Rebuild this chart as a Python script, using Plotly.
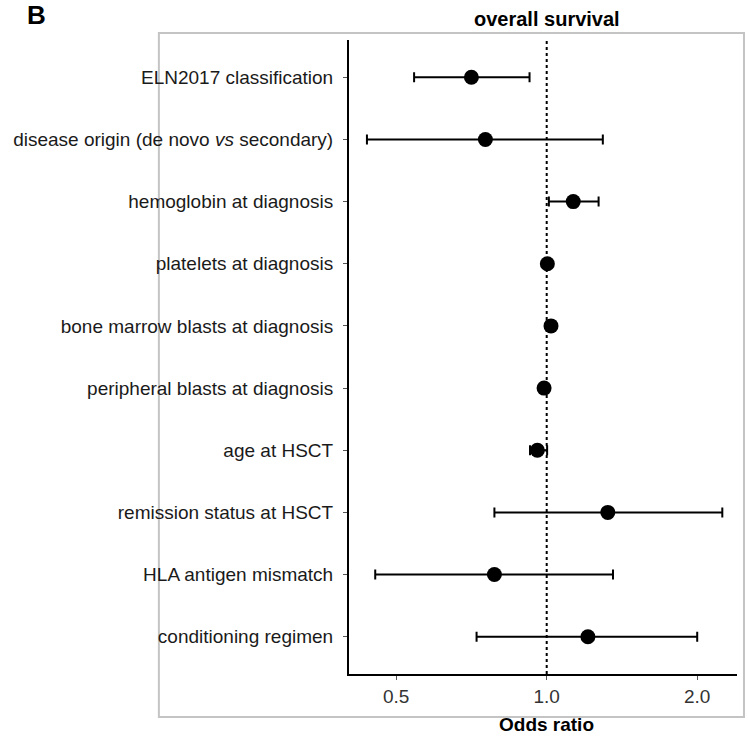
import plotly.graph_objects as go

categories = [
    "ELN2017 classification",
    "disease origin (de novo <i>vs</i> secondary)",
    "hemoglobin at diagnosis",
    "platelets at diagnosis",
    "bone marrow blasts at diagnosis",
    "peripheral blasts at diagnosis",
    "age at HSCT",
    "remission status at HSCT",
    "HLA antigen mismatch",
    "conditioning regimen",
]
odds_ratio = [0.707, 0.754, 1.13, 1.003, 1.02, 0.988, 0.958, 1.325, 0.786, 1.209]
ci_low = [0.543, 0.437, 1.01, 0.995, 1.012, 0.980, 0.926, 0.786, 0.454, 0.724]
ci_high = [0.924, 1.295, 1.27, 1.011, 1.028, 0.996, 1.002, 2.245, 1.357, 2.0]

x_ticks = [0.5, 1.0, 2.0]
x_tick_labels = ["0.5", "1.0", "2.0"]

err_plus = [h - v for h, v in zip(ci_high, odds_ratio)]
err_minus = [v - l for v, l in zip(odds_ratio, ci_low)]

FONT = "Liberation Sans, Arial, sans-serif"

fig = go.Figure()
fig.add_trace(go.Scatter(
    x=odds_ratio,
    y=list(range(len(categories))),
    mode="markers",
    marker=dict(symbol="circle", size=15, color="black"),
    error_x=dict(type="data", symmetric=False, array=err_plus, arrayminus=err_minus,
                 color="black", thickness=2, width=5),
    showlegend=False,
))

fig.add_shape(type="line", xref="x", yref="paper", x0=1, x1=1, y0=0, y1=1,
              line=dict(color="black", width=2, dash="dot"), layer="below")

# outer gray frame
fig.add_shape(type="rect", xref="paper", yref="paper",
              x0=-0.49, x1=1.018, y0=-0.0678, y1=1.011,
              line=dict(color="#c4c4c4", width=2), layer="below")

fig.update_layout(
    width=748, height=738,
    margin=dict(l=349, r=11, t=40, b=64),
    paper_bgcolor="white", plot_bgcolor="white",
    font=dict(family=FONT, size=19, color="#1a1a1a"),
    xaxis=dict(
        type="log", range=[-0.3954, 0.3806],
        tickvals=x_ticks, ticktext=x_tick_labels,
        showgrid=False, zeroline=False,
        showline=True, linecolor="black", linewidth=2,
        ticks="outside", ticklen=4, tickcolor="#555", tickwidth=1,
        tickfont=dict(size=19, color="#333"),
    ),
    yaxis=dict(
        range=[len(categories) - 0.4, -0.6],
        tickvals=list(range(len(categories))), ticktext=categories,
        showgrid=False, zeroline=False,
        showline=True, linecolor="black", linewidth=2,
        ticks="outside", ticklen=4, tickcolor="#555", tickwidth=1,
        ticklabelstandoff=6,
        tickfont=dict(size=19, color="#1a1a1a"),
    ),
    annotations=[
        dict(text="<b>overall survival</b>", xref="paper", yref="paper",
             x=0.5095, y=(674 - 19) / 634, xanchor="center", yanchor="middle",
             showarrow=False, font=dict(size=20, color="black", family=FONT)),
        dict(text="<b>Odds ratio</b>", xref="paper", yref="paper",
             x=0.5095, y=(674 - 724) / 634, xanchor="center", yanchor="middle",
             showarrow=False, font=dict(size=19, color="black", family=FONT)),
        dict(text="<b>B</b>", xref="paper", yref="paper",
             x=(36 - 349) / 388, y=(674 - 15) / 634, xanchor="center", yanchor="middle",
             showarrow=False, font=dict(size=26, color="black", family=FONT)),
    ],
)

fig.write_html("out.html")
